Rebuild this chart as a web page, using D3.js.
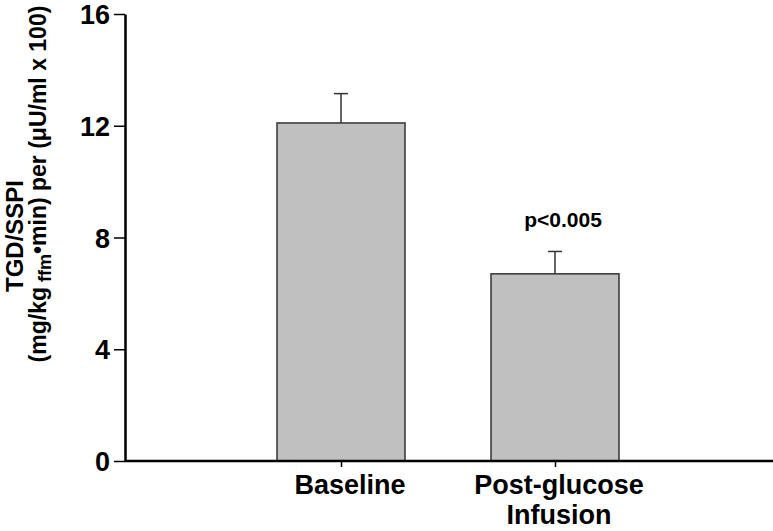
<!DOCTYPE html>
<html>
<head>
<meta charset="utf-8">
<script src="https://cdn.jsdelivr.net/npm/d3@7"></script>
<style>
  body { margin: 0; background: #fff; }
  text { font-family: "Liberation Sans", Arial, sans-serif; font-weight: bold; }
</style>
</head>
<body>
<div id="chart"></div>
<script>
const categories = ["Baseline", "Post-glucose\nInfusion"];
const means = [12.1, 6.7];
const errors = [1.05, 0.8];
const yTicks = [0, 4, 8, 12, 16];
const annotations = ["", "p<0.005"];

const width = 773, height = 531;
const marge = { top: 14, left: 125, right: 0, bottom: 70 };

const svg = d3.select("#chart").append("svg").attr("width", width).attr("height", height);

const y = d3.scaleLinear().domain([0, 16]).range([height - marge.bottom, marge.top]);
const x = d3.scalePoint().domain(categories).range([341, 555]);
const barW = 128;

// bars
svg.selectAll("rect.bar").data(means).join("rect")
  .attr("class", "bar")
  .attr("x", (d, i) => x(categories[i]) - barW / 2)
  .attr("y", d => y(d))
  .attr("width", barW)
  .attr("height", d => y(0) - y(d))
  .attr("fill", "#c0c0c0")
  .attr("stroke", "#333")
  .attr("stroke-width", 1.5);

// error bars
const eb = svg.selectAll("g.err").data(means).join("g").attr("class", "err");
eb.append("line")
  .attr("x1", (d, i) => x(categories[i])).attr("x2", (d, i) => x(categories[i]))
  .attr("y1", d => y(d)).attr("y2", (d, i) => y(d + errors[i]))
  .attr("stroke", "#333").attr("stroke-width", 1.5);
eb.append("line")
  .attr("x1", (d, i) => x(categories[i]) - 7).attr("x2", (d, i) => x(categories[i]) + 7)
  .attr("y1", (d, i) => y(d + errors[i])).attr("y2", (d, i) => y(d + errors[i]))
  .attr("stroke", "#333").attr("stroke-width", 1.5);

// annotation
svg.selectAll("text.ann").data(annotations).join("text")
  .attr("class", "ann")
  .attr("x", (d, i) => x(categories[i]) + 8)
  .attr("y", (d, i) => y(means[i] + errors[i]) - 24)
  .attr("text-anchor", "middle")
  .attr("font-size", 21)
  .text(d => d);

// y axis
const yAxis = svg.append("g")
  .attr("transform", `translate(${marge.left},0)`)
  .call(d3.axisLeft(y).tickValues(yTicks).tickSize(11).tickSizeOuter(0).tickPadding(4));
yAxis.select(".domain").attr("stroke", "#000").attr("stroke-width", 2.5);
yAxis.selectAll(".tick line").attr("stroke", "#000").attr("stroke-width", 1.5);
yAxis.selectAll(".tick text").attr("font-size", 27).attr("font-family", "Liberation Sans").attr("font-weight", "bold").attr("fill", "#000").attr("dy", "0.36em");

// x axis
const xAxis = svg.append("g")
  .attr("transform", `translate(0,${y(0)})`)
  .call(d3.axisBottom(x).tickSize(6).tickSizeOuter(0).tickFormat(""));
xAxis.select(".domain").attr("d", `M${marge.left},0H${width}`).attr("stroke", "#000").attr("stroke-width", 2.5);
xAxis.selectAll(".tick line").attr("stroke", "#000").attr("stroke-width", 1.5);

// x labels (sit a little right of the ticks, as in the original)
categories.forEach((c, i) => {
  const lines = c.split("\n");
  const cx = x(c) + (i === 0 ? 9 : 4);
  const t = svg.append("text")
    .attr("x", cx).attr("y", 494)
    .attr("text-anchor", "middle").attr("font-size", 27);
  lines.forEach((l, j) => t.append("tspan").attr("x", cx).attr("dy", j ? 30 : 0).text(l));
});

// y label
svg.append("text")
  .attr("transform", "translate(23,236) rotate(-90)")
  .attr("text-anchor", "middle").attr("font-size", 24)
  .text("TGD/SSPI");
const yl = svg.append("text")
  .attr("transform", "translate(46,184) rotate(-90)")
  .attr("text-anchor", "middle").attr("font-size", 23);
yl.append("tspan").text("(mg/kg");
yl.append("tspan").attr("font-size", 18).attr("dy", 5).text(" ffm");
yl.append("tspan").attr("dy", -5).text("\u2022min) per (\u03bcU/ml x 100)");
</script>
</body>
</html>
